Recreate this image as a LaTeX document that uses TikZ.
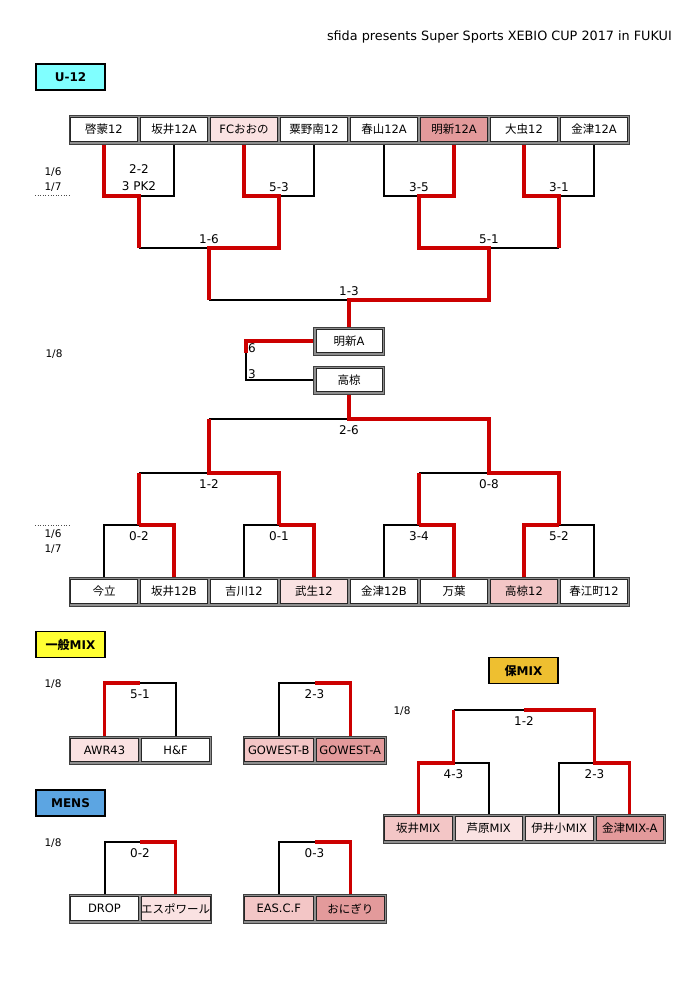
\documentclass[tikz,border=0pt]{standalone}
\usepackage{fontspec}
\setmainfont{DejaVu Sans}
\newfontfamily\jp{Noto Sans CJK JP}
\usetikzlibrary{calc}
\pgfdeclarelayer{back}
\pgfdeclarelayer{bg}
\pgfsetlayers{back,bg,main}
\definecolor{rline}{HTML}{CC0000}
\definecolor{pinkL}{HTML}{FAE2E2}
\definecolor{pinkM}{HTML}{F3C6C6}
\definecolor{pinkD}{HTML}{E39A9B}
\definecolor{cyanL}{HTML}{80FFFF}
\definecolor{yel}{HTML}{FFFF33}
\definecolor{gold}{HTML}{EEBF30}
\definecolor{blu}{HTML}{5CA5E2}
\definecolor{framegray}{HTML}{8E8E8E}
\begin{document}
\begin{tikzpicture}[x=1pt,y=-1pt,
 bk/.style={line width=2pt, black},
 rd/.style={line width=3.2pt, rline},
 frame/.style={draw=black!75, fill=framegray, line width=0.8pt},
 cell/.style={draw=black!85, fill=white, line width=0.7pt, minimum width=67pt, minimum height=23.5pt, inner sep=0pt, font=\fontsize{11.5}{13}\selectfont},
 score/.style={font=\fontsize{12}{14}\selectfont, inner sep=0pt},
 date/.style={font=\fontsize{10.5}{12}\selectfont, inner sep=0pt},
 cat/.style={draw=black, line width=1.8pt, minimum width=69pt, minimum height=26pt, inner sep=0pt, font=\fontsize{12}{14}\selectfont\bfseries},
]
\useasboundingbox (0,0) rectangle (700,991);
\begin{pgfonlayer}{back}
\fill[white] (0,0) rectangle (700,991);
\end{pgfonlayer}

\node[anchor=east, font=\fontsize{12.8}{14}\selectfont, inner sep=0pt] (title) at (672,37) {sfida presents Super Sports XEBIO CUP 2017 in FUKUI};

% category labels
\node[cat, fill=cyanL] (u12) at (70.5,77) {U-12};
\node[cat, fill=yel] (ippan) at (70.5,644.5) {{\jp\bfseries 一般}MIX};
\node[cat, fill=gold] (hogo) at (523.5,670.5) {{\jp\bfseries 保}MIX};
\node[cat, fill=blu] (mens) at (70.5,803) {MENS};

% dates
\node[date] (d1) at (53,172) {1/6};
\node[date] (d2) at (53,187) {1/7};
\draw[dotted, line width=0.6pt, black!70] (35,195) -- (70,195);
\node[date] (d3) at (54,354) {1/8};
\draw[dotted, line width=0.6pt, black!70] (35,525) -- (70,525);
\node[date] (d4) at (53,534) {1/6};
\node[date] (d5) at (53,549) {1/7};
\node[date] (d6) at (53,684) {1/8};
\node[date] (d7) at (402,711) {1/8};
\node[date] (d8) at (53,843) {1/8};

% top row
\draw[frame] (69,115) rectangle (629,144);
\node[cell] (a1) at (104,129.5) {{\jp 啓蒙}12};
\node[cell] (a2) at (174,129.5) {{\jp 坂井}12A};
\node[cell, fill=pinkL] (a3) at (244,129.5) {FC{\jp おおの}};
\node[cell] (a4) at (314,129.5) {{\jp 粟野南}12};
\node[cell] (a5) at (384,129.5) {{\jp 春山}12A};
\node[cell, fill=pinkD] (a6) at (454,129.5) {{\jp 明新}12A};
\node[cell] (a7) at (524,129.5) {{\jp 大虫}12};
\node[cell] (a8) at (594,129.5) {{\jp 金津}12A};

% middle boxes
\draw[frame] (313.5,327) rectangle (384.5,355);
\node[cell, minimum width=66pt, minimum height=23pt] (mA) at (349,341) {{\jp 明新}A};
\draw[frame] (313.5,366) rectangle (384.5,394);
\node[cell, minimum width=66pt, minimum height=23pt] (tk) at (349,380) {{\jp 高椋}};

% bottom row
\draw[frame] (69,577) rectangle (629,606);
\node[cell] (b1) at (104,591.5) {{\jp 今立}};
\node[cell] (b2) at (174,591.5) {{\jp 坂井}12B};
\node[cell] (b3) at (244,591.5) {{\jp 吉川}12};
\node[cell, fill=pinkL] (b4) at (314,591.5) {{\jp 武生}12};
\node[cell] (b5) at (384,591.5) {{\jp 金津}12B};
\node[cell] (b6) at (454,591.5) {{\jp 万葉}};
\node[cell, fill=pinkM] (b7) at (524,591.5) {{\jp 高椋}12};
\node[cell] (b8) at (594,591.5) {{\jp 春江町}12};

% ippan MIX
\draw[frame] (69,736) rectangle (211,764);
\node[cell, fill=pinkL, minimum width=68pt] (c1) at (104.5,750) {AWR43};
\node[cell, minimum width=68pt] (c2) at (175.5,750) {H\&F};
\draw[frame] (243,736) rectangle (386,764);
\node[cell, fill=pinkM, minimum width=68.5pt] (g1n) at (278.75,750) {GOWEST-B};
\node[cell, fill=pinkD, minimum width=68.5pt] (g2n) at (350.25,750) {GOWEST-A};

% hogo MIX
\draw[frame] (383,814) rectangle (665,843);
\node[cell, fill=pinkM, minimum width=67.5pt] (e1) at (418.25,828.5) {{\jp 坂井}MIX};
\node[cell, fill=pinkL, minimum width=67.5pt] (e2) at (488.75,828.5) {{\jp 芦原}MIX};
\node[cell, fill=pinkL, minimum width=67.5pt] (e3) at (559.25,828.5) {{\jp 伊井小}MIX};
\node[cell, fill=pinkD, minimum width=67.5pt] (e4) at (629.75,828.5) {{\jp 金津}MIX-A};

% MENS
\draw[frame] (69,894) rectangle (211,923);
\node[cell, minimum width=68pt] (x1) at (104.5,908.5) {DROP};
\node[cell, fill=pinkL, minimum width=68pt] (x2) at (175.5,908.5) {{\jp エスポワール}};
\draw[frame] (243,894) rectangle (386,923);
\node[cell, fill=pinkM, minimum width=68.5pt] (y1) at (278.75,908.5) {EAS.C.F};
\node[cell, fill=pinkD, minimum width=68.5pt] (y2) at (350.25,908.5) {{\jp おにぎり}};

% junction coordinates
\coordinate (m1) at (139,196); \coordinate (m2) at (279,196);
\coordinate (m3) at (419,196); \coordinate (m4) at (559,196);
\coordinate (r1) at (209,248); \coordinate (r2) at (489,248);
\coordinate (f1) at (349,300);
\coordinate (k6) at (246,341); \coordinate (kk) at (246,353); \coordinate (k3) at (246,380);
\coordinate (s1) at (349,419); \coordinate (sL) at (209,419);
\coordinate (q1) at (209,473); \coordinate (q2) at (489,473);
\coordinate (p1) at (139,525); \coordinate (p2) at (279,525);
\coordinate (p3) at (419,525); \coordinate (p4) at (559,525);
\coordinate (g1) at (140,683); \coordinate (g2) at (314.5,683);
\coordinate (h0) at (524,710); \coordinate (h1) at (453.5,763); \coordinate (h2) at (594.5,763);
\coordinate (n1) at (140,842); \coordinate (n2) at (314.5,842);

% scores
\node[score] at (139,169) {2-2};
\node[score] at (139,186) {3 PK2};
\node[score] at (279,187) {5-3};
\node[score] at (419,187) {3-5};
\node[score] at (559,187) {3-1};
\node[score] at (209,239) {1-6};
\node[score] at (489,239) {5-1};
\node[score] at (349,291) {1-3};
\node[score, anchor=west] at (248,348) {6};
\node[score, anchor=west] at (248,374) {3};
\node[score] at (349,430) {2-6};
\node[score] at (209,484) {1-2};
\node[score] at (489,484) {0-8};
\node[score] at (139,536) {0-2};
\node[score] at (279,536) {0-1};
\node[score] at (419,536) {3-4};
\node[score] at (559,536) {5-2};
\node[score] at (140,694) {5-1};
\node[score] at (314.5,694) {2-3};
\node[score] at (524,721) {1-2};
\node[score] at (453.5,774) {4-3};
\node[score] at (594.5,774) {2-3};
\node[score] at (140,853) {0-2};
\node[score] at (314.5,853) {0-3};

\begin{pgfonlayer}{bg}
% black lines
\draw[bk] (a2.north) |- (m1);
\draw[bk] (a4.north) |- (m2);
\draw[bk] (a5.north) |- (m3);
\draw[bk] (a8.north) |- (m4);
\draw[bk] (m1 |- r1) -- (r1);
\draw[bk] (m4 |- r2) -- (r2);
\draw[bk] (r1 |- f1) -- (f1);
\draw[bk] (kk) -- (k3) -- (tk.west);
\draw[bk] (sL) -- (s1);
\draw[bk] (p1 |- q1) -- (q1);
\draw[bk] (p3 |- q2) -- (q2);
\draw[bk] (b1.north) |- (p1);
\draw[bk] (b3.north) |- (p2);
\draw[bk] (b5.north) |- (p3);
\draw[bk] (b8.north) |- (p4);
\draw[bk] (c2.north) |- (g1);
\draw[bk] (g1n.north) |- (g2);
\draw[bk] (e2.north) |- (h1);
\draw[bk] (e3.north) |- (h2);
\draw[bk] (h1 |- h0) -- (h0);
\draw[bk] (x1.north) |- (n1);
\draw[bk] (y1.north) |- (n2);
% red lines
\draw[rd] (a1.north) |- (m1) -- (m1 |- r1);
\draw[rd] (a3.north) |- (m2) |- (r1) -- (r1 |- f1);
\draw[rd] (a6.north) |- (m3) |- (r2) |- (f1) -- (mA.north);
\draw[rd] (a7.north) |- (m4) -- (m4 |- r2);
\draw[rd] (mA.west) -- (k6) -- (kk);
\draw[rd] (tk.south) -- (s1) -| (q2) -| (p4);
\draw[rd] (sL) -- (q1) -| (p2);
\draw[rd] (p1 |- q1) -- (p1);
\draw[rd] (p3 |- q2) -- (p3);
\draw[rd] (b2.north) |- (p1);
\draw[rd] (b4.north) |- (p2);
\draw[rd] (b6.north) |- (p3);
\draw[rd] (b7.north) |- (p4);
\draw[rd] (c1.north) |- (g1);
\draw[rd] (g2n.north) |- (g2);
\draw[rd] (e1.north) |- (h1) -- (h1 |- h0);
\draw[rd] (e4.north) |- (h2) |- (h0);
\draw[rd] (x2.north) |- (n1);
\draw[rd] (y2.north) |- (n2);
\end{pgfonlayer}
\end{tikzpicture}
\end{document}
